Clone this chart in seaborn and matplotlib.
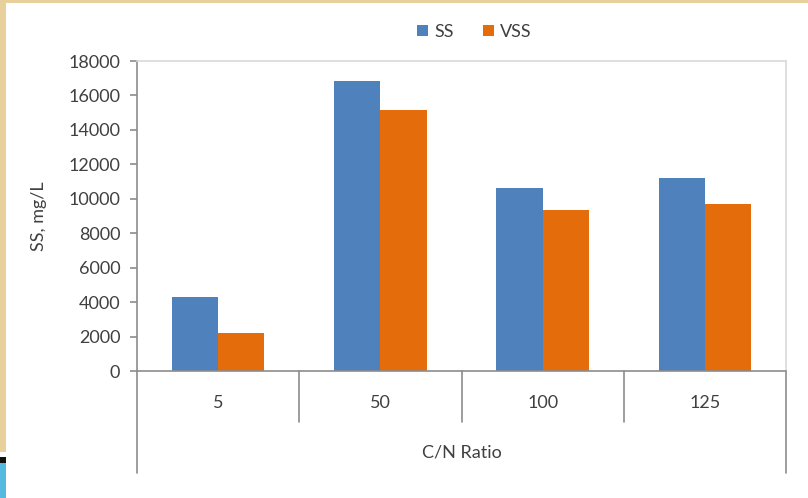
import matplotlib
matplotlib.use("Agg")
import matplotlib.pyplot as plt
from matplotlib.lines import Line2D
from matplotlib.patches import Rectangle
import seaborn as sns
import pandas as pd

# Suspended solids at each C/N ratio
ratios = ["5", "50", "100", "125"]
ss_values = [4300, 16860, 10600, 11230]
vss_values = [2230, 15150, 9370, 9680]
series_names = ["SS", "VSS"]
y_ticks = [0, 2000, 4000, 6000, 8000, 10000, 12000, 14000, 16000, 18000]

df = pd.DataFrame({
    "ratio": ratios * 2,
    "value": ss_values + vss_values,
    "series": [series_names[0]] * len(ratios) + [series_names[1]] * len(ratios),
})

sns.set_theme(style="white")
plt.rcParams["font.family"] = ["Lato", "DejaVu Sans"]

TEXT = "#404040"
AXIS = "#8c8c8c"
GRID = "#d9d9d9"
FS = 13

W, H = 808, 498
fig = plt.figure(figsize=(W / 100, H / 100), dpi=100, facecolor="white")

# Decorative page border strips
beige = "#e7d09c"
fig.patches.append(Rectangle((0, 1 - 3 / H), 1, 3 / H, transform=fig.transFigure,
                             facecolor=beige, edgecolor="none", zorder=0))
fig.patches.append(Rectangle((0, (H - 452) / H), 6 / W, 452 / H, transform=fig.transFigure,
                             facecolor=beige, edgecolor="none", zorder=0))
fig.patches.append(Rectangle((0, (H - 463) / H), 6 / W, 6 / H, transform=fig.transFigure,
                             facecolor="#111111", edgecolor="none", zorder=0))
fig.patches.append(Rectangle((0, 0), 6 / W, (H - 463) / H, transform=fig.transFigure,
                             facecolor="#55b9e0", edgecolor="none", zorder=0))

left, right, top, zero = 137, 786, 61, 371
ax = fig.add_axes([left / W, (H - zero) / H, (right - left) / W, (zero - top) / H])

sns.barplot(data=df, x="ratio", y="value", hue="series", order=ratios,
            hue_order=series_names, palette=["#4f81bd", "#e46c0a"],
            width=0.57, gap=0, linewidth=0, saturation=1, ax=ax)

ax.set_xlim(-0.5, len(ratios) - 0.5)
ax.set_ylim(0, 18000)
ax.set_yticks(y_ticks)
ax.set_yticklabels([str(v) for v in y_ticks])

for side in ["top", "right"]:
    ax.spines[side].set_color(GRID)
    ax.spines[side].set_linewidth(1.2)
for side in ["left", "bottom"]:
    ax.spines[side].set_color(AXIS)
    ax.spines[side].set_linewidth(1.2)

ax.tick_params(axis="y", direction="out", length=5, width=1.2, color=AXIS,
               labelsize=FS, labelcolor=TEXT, pad=7, left=True)
ax.tick_params(axis="x", length=0, labelsize=FS, labelcolor=TEXT, pad=17)

# Category divider lines below the axis
h_ax = zero - top
xt = ax.get_xaxis_transform()
for b in [0.5, 1.5, 2.5]:
    ax.add_line(Line2D([b, b], [0, -51 / h_ax], transform=xt, color=AXIS,
                       linewidth=1.2, clip_on=False))
for b in [-0.5, len(ratios) - 0.5]:
    ax.add_line(Line2D([b, b], [0, -102 / h_ax], transform=xt, color=AXIS,
                       linewidth=1.2, clip_on=False))

ax.set_xlabel("C/N Ratio", fontsize=FS, color=TEXT)
ax.xaxis.label.set_va("center")
ax.xaxis.set_label_coords(0.5, -81 / h_ax)

ax.set_ylabel("SS, mg/L", fontsize=FS, color=TEXT)
ax.yaxis.label.set_va("center")
ax.yaxis.set_label_coords(-98 / (right - left), 0.5)

handles, labels = ax.get_legend_handles_labels()
ax.legend(handles, labels, loc="center",
          bbox_to_anchor=(0.5 + 13 / (right - left), 1 + 29 / h_ax),
          ncol=2, frameon=False, fontsize=FS, labelcolor=TEXT,
          handlelength=0.6, handleheight=0.6, handletextpad=0.35,
          columnspacing=1.6)

fig.savefig("out.png", dpi=100, facecolor="white")
